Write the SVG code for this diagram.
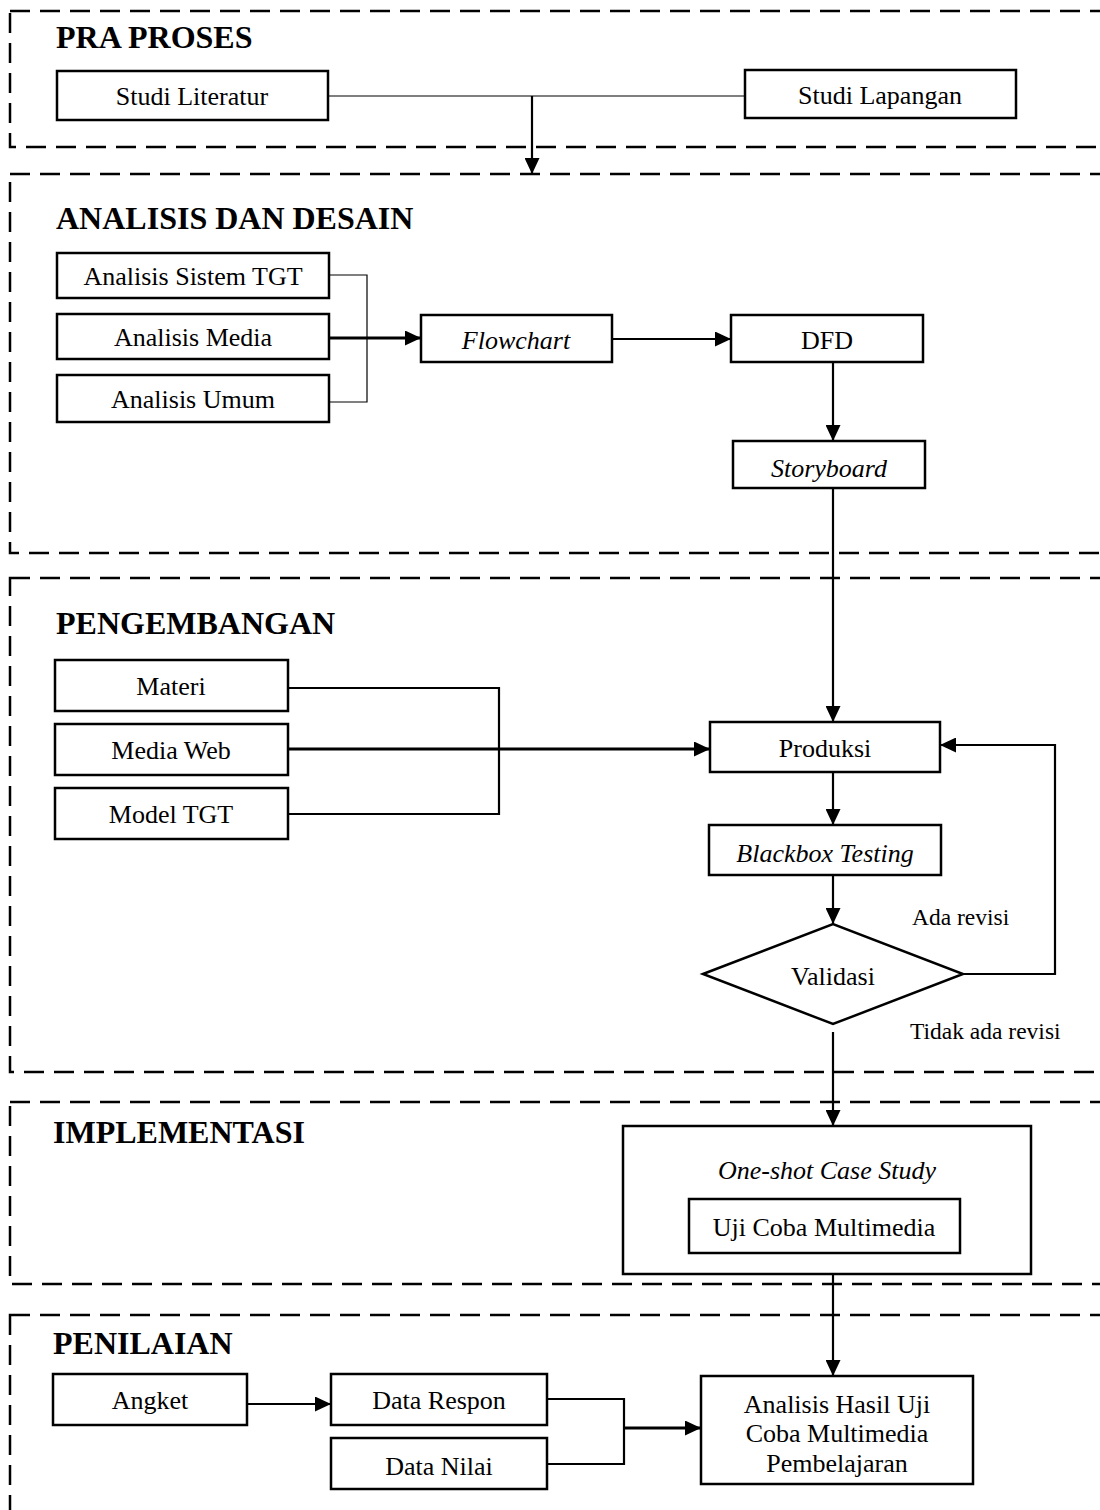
<svg xmlns="http://www.w3.org/2000/svg" width="1100" height="1510" viewBox="0 0 1100 1510">
<style>
.sec{fill:none;stroke:#000;stroke-width:2.5;stroke-dasharray:20 10}
.box{fill:#fff;stroke:#000;stroke-width:2.5}
.t{font-family:"Liberation Serif","Times New Roman",serif;font-size:26px;fill:#000;text-anchor:middle}
.i{font-style:italic}
.h{font-family:"Liberation Serif","Times New Roman",serif;font-size:32px;font-weight:bold;fill:#000}
.lbl{font-family:"Liberation Serif","Times New Roman",serif;font-size:23.5px;fill:#000}
.c{fill:none;stroke:#000;stroke-width:2.2}
.thin{fill:none;stroke:#000;stroke-width:1.2}
.thick{fill:none;stroke:#000;stroke-width:3}
</style>
<defs>
<marker id="ah" markerUnits="userSpaceOnUse" markerWidth="17" markerHeight="15" refX="16" refY="7.5" orient="auto">
<path d="M0,0 L16,7.5 L0,15 Z" fill="#000"/>
</marker>
</defs>
<rect width="1100" height="1510" fill="#fff"/>
<g id="sections">
<rect class="sec" x="10" y="11" width="1120" height="136"/>
<rect class="sec" x="10" y="174" width="1120" height="379"/>
<rect class="sec" x="10" y="578" width="1120" height="494"/>
<rect class="sec" x="10" y="1102" width="1120" height="182"/>
<rect class="sec" x="10" y="1315" width="1120" height="240"/>
<text class="h" x="56" y="48">PRA PROSES</text>
<text class="h" x="56" y="229">ANALISIS DAN DESAIN</text>
<text class="h" x="56" y="634">PENGEMBANGAN</text>
<text class="h" x="53" y="1143">IMPLEMENTASI</text>
<text class="h" x="53" y="1354">PENILAIAN</text>
</g>
<g id="connectors">
<path class="thin" d="M329,96 H745"/>
<path class="c" d="M532,96 V174" marker-end="url(#ah)"/>
<path class="thin" d="M329,275 H367 V402 H329"/>
<path class="thick" d="M329,338 H421" marker-end="url(#ah)"/>
<path class="c" d="M612,339 H731" marker-end="url(#ah)"/>
<path class="c" d="M833,362 V441" marker-end="url(#ah)"/>
<path class="c" d="M833,488 V722" marker-end="url(#ah)"/>
<path class="c" d="M288,688 H499 V814 H288"/>
<path class="thick" d="M288,749 H710" marker-end="url(#ah)"/>
<path class="c" d="M833,772 V825" marker-end="url(#ah)"/>
<path class="c" d="M833,875 V924" marker-end="url(#ah)"/>
<path class="c" d="M963,974 H1055 V745 H940" marker-end="url(#ah)"/>
<path class="c" d="M833,1032 V1126" marker-end="url(#ah)"/>
<path class="c" d="M833,1274 V1376" marker-end="url(#ah)"/>
<path class="c" d="M247,1404 H331" marker-end="url(#ah)"/>
<path class="c" d="M547,1399 H624 V1464 H547"/>
<path class="thick" d="M624,1428 H701" marker-end="url(#ah)"/>
<text class="lbl" x="912" y="925">Ada revisi</text>
<text class="lbl" x="910" y="1039">Tidak ada revisi</text>
</g>
<g id="studi-literatur"><rect class="box" x="57" y="71" width="271" height="49"/><text class="t" x="192" y="105">Studi Literatur</text></g>
<g id="studi-lapangan"><rect class="box" x="745" y="70" width="271" height="48"/><text class="t" x="880" y="104">Studi Lapangan</text></g>
<g id="analisis-sistem"><rect class="box" x="57" y="253" width="272" height="45"/><text class="t" x="193" y="285">Analisis Sistem TGT</text></g>
<g id="analisis-media"><rect class="box" x="57" y="314" width="272" height="45"/><text class="t" x="193" y="346">Analisis Media</text></g>
<g id="analisis-umum"><rect class="box" x="57" y="375" width="272" height="47"/><text class="t" x="193" y="408">Analisis Umum</text></g>
<g id="flowchart"><rect class="box" x="421" y="315" width="191" height="47"/><text class="t i" x="516" y="349">Flowchart</text></g>
<g id="dfd"><rect class="box" x="731" y="315" width="192" height="47"/><text class="t" x="827" y="349">DFD</text></g>
<g id="storyboard"><rect class="box" x="733" y="441" width="192" height="47"/><text class="t i" x="829" y="477">Storyboard</text></g>
<g id="materi"><rect class="box" x="55" y="660" width="233" height="51"/><text class="t" x="171" y="695">Materi</text></g>
<g id="media-web"><rect class="box" x="55" y="724" width="233" height="51"/><text class="t" x="171" y="759">Media Web</text></g>
<g id="model-tgt"><rect class="box" x="55" y="788" width="233" height="51"/><text class="t" x="171" y="823">Model TGT</text></g>
<g id="produksi"><rect class="box" x="710" y="722" width="230" height="50"/><text class="t" x="825" y="757">Produksi</text></g>
<g id="blackbox"><rect class="box" x="709" y="825" width="232" height="50"/><text class="t i" x="825" y="862">Blackbox Testing</text></g>
<g id="validasi"><polygon class="box" points="703,974 833,924 963,974 833,1024"/><text class="t" x="833" y="985">Validasi</text></g>
<g id="one-shot"><rect class="box" x="623" y="1126" width="408" height="148"/><text class="t i" x="827" y="1179">One-shot Case Study</text></g>
<g id="uji-coba"><rect class="box" x="689" y="1199" width="271" height="54"/><text class="t" x="824" y="1236">Uji Coba Multimedia</text></g>
<g id="angket"><rect class="box" x="53" y="1374" width="194" height="51"/><text class="t" x="150" y="1409">Angket</text></g>
<g id="data-respon"><rect class="box" x="331" y="1374" width="216" height="51"/><text class="t" x="439" y="1409">Data Respon</text></g>
<g id="data-nilai"><rect class="box" x="331" y="1438" width="216" height="51"/><text class="t" x="439" y="1475">Data Nilai</text></g>
<g id="analisis-hasil"><rect class="box" x="701" y="1376" width="272" height="108"/><text class="t" x="837" y="1413">Analisis Hasil Uji</text><text class="t" x="837" y="1442">Coba Multimedia</text><text class="t" x="837" y="1472">Pembelajaran</text></g>
</svg>
